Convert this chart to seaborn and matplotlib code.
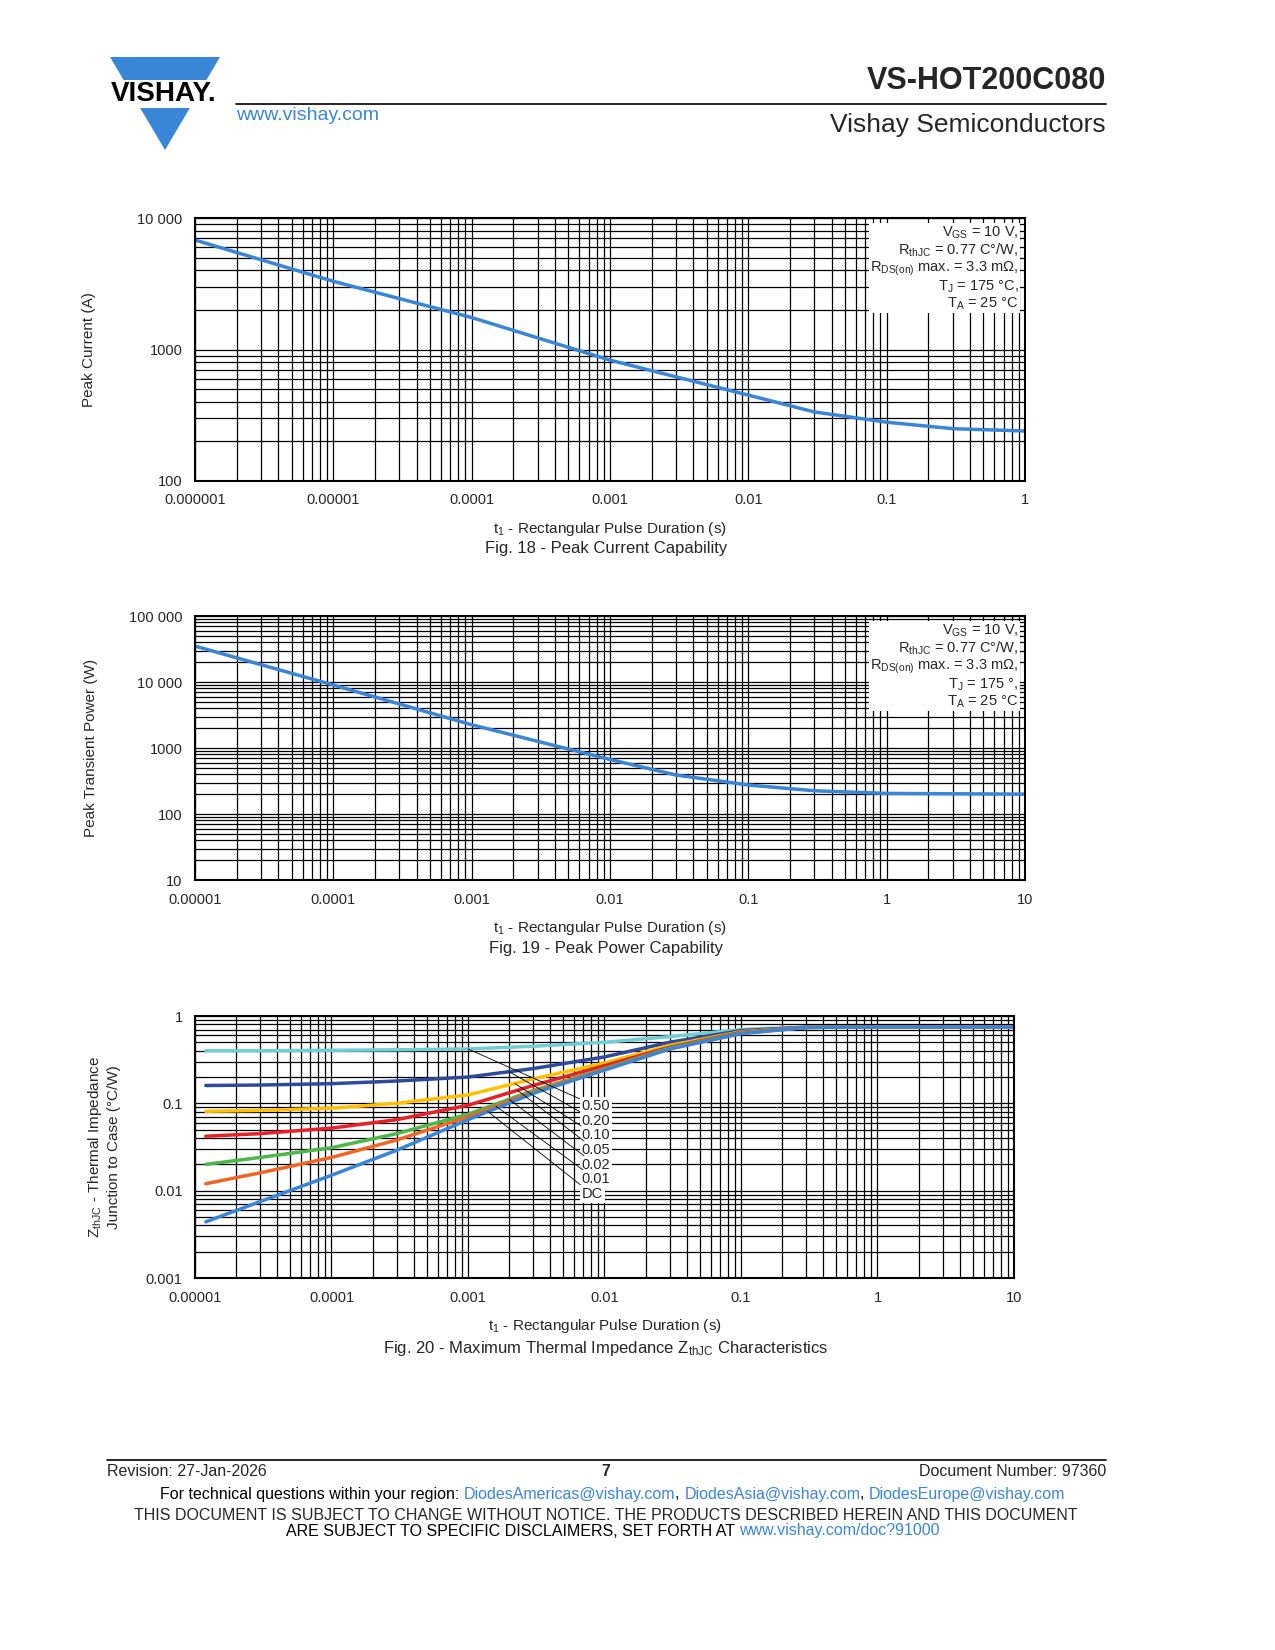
import numpy as np
import pandas as pd
import matplotlib
matplotlib.use("Agg")
import matplotlib.pyplot as plt
from matplotlib.patches import Polygon
from matplotlib.ticker import FixedLocator, FixedFormatter, LogLocator, NullFormatter
import seaborn as sns

fig18_t = [1e-6, 1e-5, 1e-4, 1e-3, 1e-2, 3e-2, 0.1, 0.3, 1.0]
fig18_i = [6800, 3300, 1750, 830, 450, 335, 280, 250, 240]

fig19_t = [1e-5, 1e-4, 1e-3, 1e-2, 3e-2, 0.1, 0.3, 1.0, 10.0]
fig19_p = [35000, 9000, 2250, 670, 390, 275, 225, 205, 200]

z_t = [1.2e-5, 3e-5, 1e-4, 3e-4, 1e-3, 3e-3, 1e-2, 3e-2, 0.1, 0.3, 1.0, 10.0]
z_dc = [0.0044, 0.0075, 0.015, 0.029, 0.065, 0.13, 0.24, 0.42, 0.63, 0.74, 0.75, 0.75]
z_001 = [0.012, 0.016, 0.024, 0.038, 0.07, 0.135, 0.245, 0.42, 0.63, 0.74, 0.75, 0.75]
z_002 = [0.020, 0.024, 0.031, 0.045, 0.075, 0.14, 0.25, 0.43, 0.64, 0.74, 0.75, 0.75]
z_005 = [0.042, 0.045, 0.052, 0.065, 0.095, 0.16, 0.27, 0.44, 0.65, 0.74, 0.75, 0.75]
z_010 = [0.081, 0.083, 0.088, 0.10, 0.125, 0.19, 0.29, 0.46, 0.66, 0.74, 0.75, 0.75]
z_020 = [0.16, 0.162, 0.168, 0.18, 0.20, 0.25, 0.34, 0.50, 0.68, 0.745, 0.75, 0.75]
z_050 = [0.40, 0.40, 0.405, 0.41, 0.42, 0.45, 0.50, 0.58, 0.70, 0.75, 0.75, 0.75]
duty_labels = ["0.50", "0.20", "0.10", "0.05", "0.02", "0.01", "DC"]
duty_colors = ["#6fcfd4", "#2e4a9a", "#ffc000", "#e8202a", "#4cb848", "#f26522", "#3a86d6"]
duty_series = [z_050, z_020, z_010, z_005, z_002, z_001, z_dc]
leader_x = [1e-3, 2e-3, 2.2e-3, 2.3e-3, 2e-3, 1.6e-3, 1.4e-3]

sns.set_style("white")
plt.rcParams["font.family"] = ["Liberation Sans", "DejaVu Sans"]
plt.rcParams["mathtext.default"] = "regular"

W, H = 1275, 1650
fig = plt.figure(figsize=(12.75, 16.5), dpi=100)

def ax_at(x0, y0, x1, y1):
    return fig.add_axes([x0 / W, 1 - y1 / H, (x1 - x0) / W, (y1 - y0) / H])

def style_log(ax, xlim, ylim, xt, xl, yt, yl):
    ax.set_xscale("log")
    ax.set_yscale("log")
    ax.set_xlim(*xlim)
    ax.set_ylim(*ylim)
    ax.xaxis.set_major_locator(FixedLocator(xt))
    ax.xaxis.set_major_formatter(FixedFormatter(xl))
    ax.yaxis.set_major_locator(FixedLocator(yt))
    ax.yaxis.set_major_formatter(FixedFormatter(yl))
    for a in (ax.xaxis, ax.yaxis):
        a.set_minor_locator(LogLocator(base=10, subs=np.arange(2, 10), numticks=50))
        a.set_minor_formatter(NullFormatter())
    ax.grid(True, which="both", color="black", lw=0.9)
    ax.tick_params(which="both", length=0, labelsize=10.5, pad=9)
    for s in ax.spines.values():
        s.set_color("black")
        s.set_linewidth(1.5)
    ax.set_xlabel("$t_1$ - Rectangular Pulse Duration (s)", fontsize=11, labelpad=9)

cond_text = ("$V_{GS}$ = 10 V,\n$R_{thJC}$ = 0.77 C°/W,\n$R_{DS(on)}$ max. = 3.3 mΩ,\n"
             "$T_J$ = 175 °C,\n$T_A$ = 25 °C")
cond_text19 = ("$V_{GS}$ = 10 V,\n$R_{thJC}$ = 0.77 C°/W,\n$R_{DS(on)}$ max. = 3.3 mΩ,\n"
               "$T_J$ = 175 °,\n$T_A$ = 25 °C")

# ---- Fig. 18 ----
ax1 = ax_at(195, 218, 1025, 481)
df18 = pd.DataFrame({"t": fig18_t, "i": fig18_i})
sns.lineplot(data=df18, x="t", y="i", ax=ax1, color="#3a86d6", lw=2.5)
style_log(ax1, (1e-6, 1), (100, 10000),
          [1e-6, 1e-5, 1e-4, 1e-3, 1e-2, 0.1, 1],
          ["0.000001", "0.00001", "0.0001", "0.001", "0.01", "0.1", "1"],
          [100, 1000, 10000], ["100", "1000", "10 000"])
ax1.set_ylabel("Peak Current (A)", fontsize=11, labelpad=30)
ax1.text(0.992, 0.975, cond_text, transform=ax1.transAxes, ha="right", va="top",
         fontsize=10.5, linespacing=1.05, bbox=dict(fc="white", ec="none", pad=1))
fig.text(606 / W, 1 - 549 / H, "Fig. 18 - Peak Current Capability", ha="center", va="center", fontsize=12)

# ---- Fig. 19 ----
ax2 = ax_at(195, 616, 1025, 880)
df19 = pd.DataFrame({"t": fig19_t, "p": fig19_p})
sns.lineplot(data=df19, x="t", y="p", ax=ax2, color="#3a86d6", lw=2.5)
style_log(ax2, (1e-5, 10), (10, 1e5),
          [1e-5, 1e-4, 1e-3, 1e-2, 0.1, 1, 10],
          ["0.00001", "0.0001", "0.001", "0.01", "0.1", "1", "10"],
          [10, 100, 1000, 10000, 100000], ["10", "100", "1000", "10 000", "100 000"])
ax2.set_ylabel("Peak Transient Power (W)", fontsize=11, labelpad=22)
ax2.text(0.992, 0.975, cond_text19, transform=ax2.transAxes, ha="right", va="top",
         fontsize=10.5, linespacing=1.05, bbox=dict(fc="white", ec="none", pad=1))
fig.text(606 / W, 1 - 948 / H, "Fig. 19 - Peak Power Capability", ha="center", va="center", fontsize=12)

# ---- Fig. 20 ----
ax3 = ax_at(195, 1016, 1014, 1278)
rows = []
for lab, ys in zip(duty_labels, duty_series):
    for t, z in zip(z_t, ys):
        rows.append({"t": t, "z": z, "duty": lab})
df20 = pd.DataFrame(rows)
sns.lineplot(data=df20, x="t", y="z", hue="duty", hue_order=duty_labels,
             palette=duty_colors, ax=ax3, lw=2.5, legend=False)
style_log(ax3, (1e-5, 10), (1e-3, 1),
          [1e-5, 1e-4, 1e-3, 1e-2, 0.1, 1, 10],
          ["0.00001", "0.0001", "0.001", "0.01", "0.1", "1", "10"],
          [1e-3, 1e-2, 0.1, 1], ["0.001", "0.01", "0.1", "1"])
ax3.set_ylabel("$Z_{thJC}$ - Thermal Impedance\nJunction to Case (°C/W)", fontsize=11, labelpad=18)
lab_x = 6.8e-3
for k, (lab, ys, lx) in enumerate(zip(duty_labels, duty_series, leader_x)):
    ly = 10 ** (np.log10(0.093) - 0.168 * k)
    sy = 10 ** np.interp(np.log10(lx), np.log10(z_t), np.log10(ys))
    ax3.annotate(lab, xy=(lx, sy), xytext=(lab_x, ly), fontsize=10.5, va="center", ha="left",
                 bbox=dict(fc="white", ec="none", pad=1.5),
                 arrowprops=dict(arrowstyle="-", color="black", lw=0.6, shrinkA=0, shrinkB=0))
fig.text(606 / W, 1 - 1348 / H, "Fig. 20 - Maximum Thermal Impedance $Z_{thJC}$ Characteristics",
         ha="center", va="center", fontsize=12)

# ---- header ----
fig.patches.append(Polygon([[110 / W, 1 - 57 / H], [220 / W, 1 - 57 / H], [165 / W, 1 - 150 / H]],
                           closed=True, transform=fig.transFigure, fc="#3a86d6", ec="none"))
fig.text(164 / W, 1 - 94 / H, "VISHAY.", ha="center", va="center", fontsize=20, fontweight="bold",
         color="black", bbox=dict(fc="white", ec="none", pad=0.5))
fig.text(236 / W, 1 - 116 / H, "www.vishay.com", ha="left", va="center", fontsize=14, color="#3a86d6")
fig.lines.append(plt.Line2D([236 / W, 1106 / W], [1 - 104 / H, 1 - 104 / H], transform=fig.transFigure,
                            color="black", lw=1.2))
fig.text(1106 / W, 1 - 81 / H, "VS-HOT200C080", ha="right", va="center", fontsize=22, fontweight="bold")
fig.text(1106 / W, 1 - 125 / H, "Vishay Semiconductors", ha="right", va="center", fontsize=19)

# ---- footer ----
fig.lines.append(plt.Line2D([107 / W, 1106 / W], [1 - 1460 / H, 1 - 1460 / H], transform=fig.transFigure,
                            color="black", lw=1.2))
fig.text(107 / W, 1 - 1472 / H, "Revision: 27-Jan-2026", ha="left", va="center", fontsize=11.5)
fig.text(606 / W, 1 - 1472 / H, "7", ha="center", va="center", fontsize=11.5, fontweight="bold")
fig.text(1106 / W, 1 - 1472 / H, "Document Number: 97360", ha="right", va="center", fontsize=11.5)

renderer = fig.canvas.get_renderer()

def chain(x0, y, parts):
    x = x0
    for txt, col in parts:
        t = fig.text(x / W, 1 - y / H, txt, ha="left", va="center", fontsize=11.5, color=col)
        x += t.get_window_extent(renderer).width

blue = "#3a86d6"
chain(160, 1494, [("For technical questions within your region: ", "black"),
                  ("DiodesAmericas@vishay.com", blue), (", ", "black"),
                  ("DiodesAsia@vishay.com", blue), (", ", "black"),
                  ("DiodesEurope@vishay.com", blue)])
fig.text(606 / W, 1 - 1515 / H, "THIS DOCUMENT IS SUBJECT TO CHANGE WITHOUT NOTICE. THE PRODUCTS DESCRIBED HEREIN AND THIS DOCUMENT",
         ha="center", va="center", fontsize=11.5)
chain(286, 1531, [("ARE SUBJECT TO SPECIFIC DISCLAIMERS, SET FORTH AT ", "black"),
                  ("www.vishay.com/doc?91000", blue)])

fig.savefig("out.png", dpi=100)
